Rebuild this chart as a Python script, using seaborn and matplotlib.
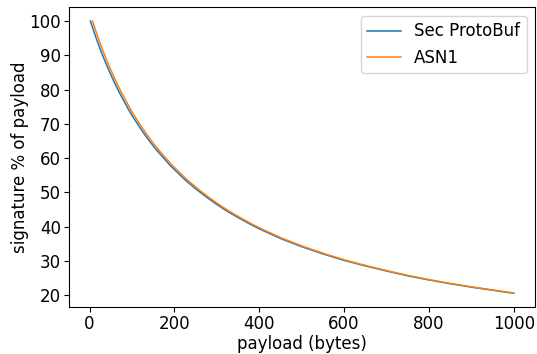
import matplotlib
matplotlib.use("Agg")
import matplotlib.pyplot as plt
import seaborn as sns
import pandas as pd

# values
protobuf_x = [2, 5, 10, 15, 20, 25, 30, 35, 40, 45, 50, 60, 70, 80, 90, 100,
              110, 120, 130, 140, 150, 160, 170, 180, 190, 200, 225, 250, 275,
              300, 325, 350, 375, 400, 450, 500, 550, 600, 650, 700, 750, 800,
              850, 900, 950, 1000]
protobuf_y = [100.0, 98.85, 97.0, 95.2, 93.5, 91.8, 90.2, 88.7, 87.2, 85.8, 84.4,
              81.7, 79.2, 76.9, 74.6, 72.5, 70.6, 68.7, 66.9, 65.2, 63.6, 62.1,
              60.7, 59.3, 57.9, 56.7, 53.7, 51.1, 48.7, 46.5, 44.5, 42.7, 41.0,
              39.4, 36.6, 34.2, 32.1, 30.2, 28.6, 27.1, 25.7, 24.5, 23.4, 22.4,
              21.5, 20.6]

asn1_x = [7, 10, 15, 20, 25, 30, 35, 40, 45, 50, 55, 65, 75, 85, 95, 105,
          115, 125, 135, 145, 155, 165, 175, 185, 195, 205, 230, 255, 280,
          305, 330, 355, 380, 405, 455, 505, 555, 605, 655, 705, 755, 805,
          855, 905, 955, 1000]
asn1_y = [100.0, 98.85, 97.0, 95.2, 93.5, 91.8, 90.2, 88.7, 87.2, 85.8, 84.4,
          81.7, 79.2, 76.9, 74.6, 72.5, 70.6, 68.7, 66.9, 65.2, 63.6, 62.1,
          60.7, 59.3, 57.9, 56.7, 53.7, 51.1, 48.7, 46.5, 44.5, 42.7, 41.0,
          39.4, 36.6, 34.2, 32.1, 30.2, 28.6, 27.1, 25.7, 24.5, 23.4, 22.4,
          21.5, 20.7]

df = pd.concat([
    pd.DataFrame({'payload': protobuf_x, 'pct': protobuf_y, 'format': 'Sec ProtoBuf'}),
    pd.DataFrame({'payload': asn1_x, 'pct': asn1_y, 'format': 'ASN1'}),
])

plt.rcParams['font.size'] = 12
plt.rcParams['xtick.major.pad'] = 2.5
plt.rcParams['ytick.major.pad'] = 2.5

fig, ax = plt.subplots(figsize=(5.37, 3.54), dpi=100)
fig.subplots_adjust(left=0.129, right=0.996, top=0.979, bottom=0.133)

sns.lineplot(data=df, x='payload', y='pct', hue='format',
             palette=['tab:blue', 'tab:orange'], linewidth=1.1, ax=ax)

ax.set_xlabel('payload (bytes)', labelpad=1)
ax.set_ylabel('signature % of payload', labelpad=0)
ax.set_xticks([0, 200, 400, 600, 800, 1000])
ax.set_yticks(range(20, 101, 10))
ax.legend(title=None, loc='upper right')

plt.savefig('out.png', dpi=100)
